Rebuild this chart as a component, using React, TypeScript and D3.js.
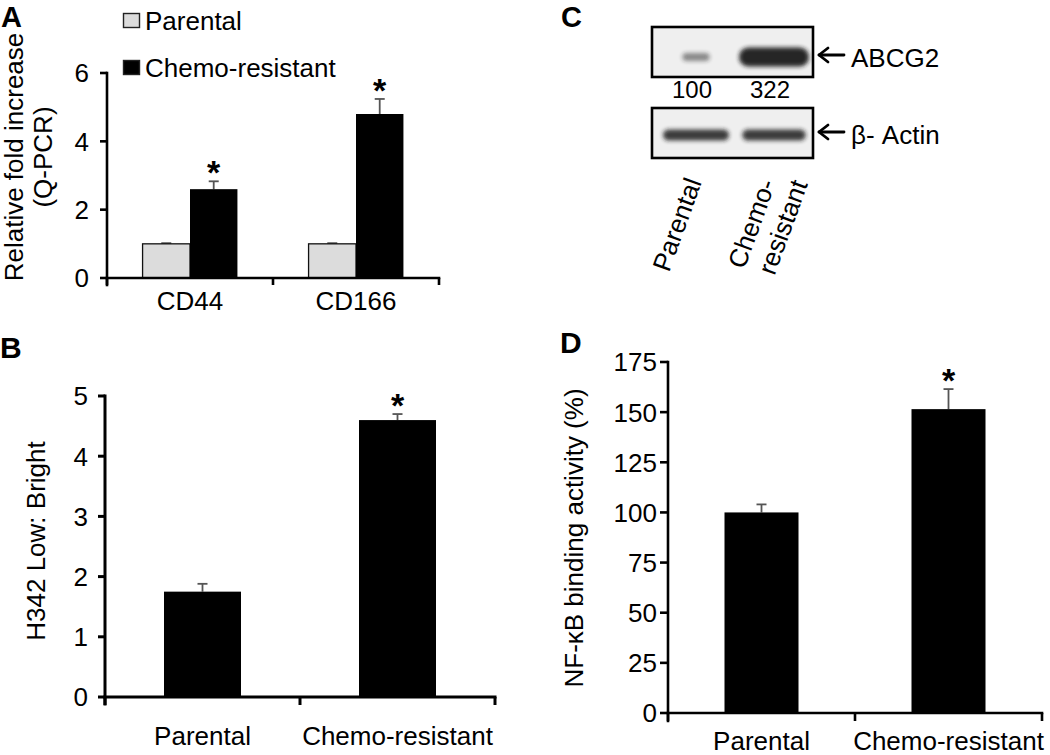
import React from "react";
import * as d3 from "d3";

const FONT = "'Liberation Sans', Arial, Helvetica, sans-serif";

// ---------- Panel A : Q-PCR ----------
const genesA = ["CD44", "CD166"];
const seriesA = ["Parental", "Chemo-resistant"];
const parentalA = [1.0, 1.0];
const parentalErrA = [0.02, 0.02];
const chemoA = [2.6, 4.8];
const chemoErrA = [0.23, 0.44];
const sigA = [true, true];
const ticksA = [0, 2, 4, 6];

// ---------- Panel B : H342 ----------
const groupsB = ["Parental", "Chemo-resistant"];
const valuesB = [1.75, 4.6];
const errB = [0.13, 0.1];
const sigB = [false, true];
const ticksB = [0, 1, 2, 3, 4, 5];

// ---------- Panel C : western blot ----------
const lanesC = ["Parental", "Chemo-resistant"];
const abcg2Density = [100, 322];
const actinDensity = [100, 96];

// ---------- Panel D : NF-kB ----------
const groupsD = ["Parental", "Chemo-resistant"];
const valuesD = [100, 151.5];
const errD = [4, 10];
const sigD = [false, true];
const ticksD = [0, 25, 50, 75, 100, 125, 150, 175];

const FS = 26;

function YAxis({ scale, ticks, x, tickLen, gap, width }: any) {
  const [y0, y1] = scale.range();
  return (
    <g>
      <line x1={x} x2={x} y1={y1} y2={y0 + tickLen} stroke="#000" strokeWidth={width} strokeLinecap="square" />
      {ticks.map((t: number) => (
        <g key={t}>
          <line x1={x - tickLen} x2={x} y1={scale(t)} y2={scale(t)} stroke="#000" strokeWidth={width} />
          <text x={x - gap} y={scale(t)} dy="0.36em" textAnchor="end" fontSize={FS}>
            {t}
          </text>
        </g>
      ))}
    </g>
  );
}

function XAxis({ band, y, tickLen, width }: any) {
  const [x0, x1] = band.range();
  const bounds = [...band.domain().map((d: string) => band(d)), x1];
  return (
    <g>
      <line x1={x0} x2={x1} y1={y} y2={y} stroke="#000" strokeWidth={width} strokeLinecap="square" />
      {bounds.map((b: number, i: number) => (
        <line key={i} x1={b} x2={b} y1={y} y2={y + tickLen} stroke="#000" strokeWidth={width} />
      ))}
    </g>
  );
}

function ErrBar({ cx, y0, y1 }: any) {
  return (
    <g stroke="#555" strokeWidth={1.8}>
      <line x1={cx} x2={cx} y1={y0} y2={y1} />
      <line x1={cx - 5} x2={cx + 5} y1={y1} y2={y1} />
    </g>
  );
}

function Star({ cx, y }: any) {
  return (
    <text x={cx} y={y + 3} textAnchor="middle" fontSize={34} fontWeight="bold">
      *
    </text>
  );
}

function SingleBars({ groups, values, errs, sig, x, y, barW, labelY }: any) {
  return (
    <g>
      {groups.map((g: string, i: number) => {
        const cx = x(g) + x.bandwidth() / 2;
        const top = y(values[i]);
        const et = y(values[i] + errs[i]);
        return (
          <g key={g}>
            <ErrBar cx={cx} y0={top} y1={et} />
            <rect x={cx - barW / 2} y={top} width={barW} height={y(0) - top} fill="#000" />
            {sig[i] && <Star cx={cx} y={et} />}
            <text x={cx} y={labelY} textAnchor="middle" fontSize={FS}>
              {g}
            </text>
          </g>
        );
      })}
    </g>
  );
}

export default function App() {
  // Panel A scales
  const xA = d3.scaleBand<string>().domain(genesA).range([107, 439]).padding(0);
  const inA = d3
    .scaleBand<string>()
    .domain(seriesA)
    .range([0, xA.bandwidth()])
    .paddingInner(0)
    .paddingOuter(0.75);
  const yA = d3.scaleLinear().domain([0, 6]).range([278, 73]);

  // Panel B scales
  const xB = d3.scaleBand<string>().domain(groupsB).range([105, 495]).padding(0);
  const yB = d3.scaleLinear().domain([0, 5]).range([697, 396]);

  // Panel D scales
  const xD = d3.scaleBand<string>().domain(groupsD).range([668, 1042]).padding(0);
  const yD = d3.scaleLinear().domain([0, 175]).range([713, 362]);

  // Panel C scales
  const laneC = d3.scaleBand<string>().domain(lanesC).range([657, 813]).padding(0);
  const bandW = d3.scaleLinear().domain([0, 322]).range([8, 70]);
  const bandH = d3.scaleLinear().domain([0, 322]).range([3, 19]);
  const bandO = d3.scaleLinear().domain([0, 322]).range([0.28, 0.95]);
  const actinW = d3.scaleLinear().domain([0, 100]).range([0, 66]);

  const laneCx = (l: string) => (laneC(l) as number) + laneC.bandwidth() / 2;

  const seriesFill = ["#dcdcdc", "#000"];
  const seriesVals = [parentalA, chemoA];
  const seriesErrs = [parentalErrA, chemoErrA];

  const rot = -70;

  return (
    <div style={{ position: "absolute", left: 0, top: 0 }}>
      <svg width={1050} height={755} viewBox="0 0 1050 755" style={{ display: "block", background: "#fff" }} fontFamily={FONT} fill="#000">
        <defs>
          <filter id="blur" x="-30%" y="-80%" width="160%" height="260%">
            <feGaussianBlur stdDeviation="2.2" />
          </filter>
        </defs>

        {/* ---------------- Panel A ---------------- */}
        <text x={1} y={27} fontSize={29} fontWeight="bold">A</text>
        {/* legend */}
        {seriesA.map((s, i) => (
          <g key={s}>
            <rect x={123.5} y={13.5 + i * 47} width={16} height={14} fill={seriesFill[i]} stroke="#222" strokeWidth={1.4} />
            <text x={145} y={30 + i * 47} fontSize={FS}>{s}</text>
          </g>
        ))}
        <g transform="translate(23,157) rotate(-90)">
          <text textAnchor="middle" fontSize={FS}>Relative fold increase</text>
        </g>
        <g transform="translate(52,157) rotate(-90)">
          <text textAnchor="middle" fontSize={FS}>(Q-PCR)</text>
        </g>
        {genesA.map((g, gi) => (
          <g key={g}>
            {seriesA.map((s, si) => {
              const x0 = (xA(g) as number) + (inA(s) as number);
              const w = inA.bandwidth();
              const v = seriesVals[si][gi];
              const top = yA(v);
              const et = yA(v + seriesErrs[si][gi]);
              return (
                <g key={s}>
                  <ErrBar cx={x0 + w / 2} y0={top} y1={et} />
                  <rect
                    x={x0}
                    y={top}
                    width={w}
                    height={yA(0) - top}
                    fill={seriesFill[si]}
                    stroke={si === 0 ? "#111" : "none"}
                    strokeWidth={1.3}
                  />
                  {si === 1 && sigA[gi] && <Star cx={x0 + w / 2} y={et} />}
                </g>
              );
            })}
            <text x={(xA(g) as number) + xA.bandwidth() / 2} y={310} textAnchor="middle" fontSize={FS}>
              {g}
            </text>
          </g>
        ))}
        <YAxis scale={yA} ticks={ticksA} x={107} tickLen={7} gap={18} width={2.6} />
        <XAxis band={xA} y={278} tickLen={7} width={2.6} />

        {/* ---------------- Panel B ---------------- */}
        <text x={0} y={358} fontSize={30} fontWeight="bold">B</text>
        <g transform="translate(45,541) rotate(-90)">
          <text textAnchor="middle" fontSize={FS}>H342 Low: Bright</text>
        </g>
        <SingleBars groups={groupsB} values={valuesB} errs={errB} sig={sigB} x={xB} y={yB} barW={77} labelY={745} />
        <YAxis scale={yB} ticks={ticksB} x={105} tickLen={7} gap={17} width={3} />
        <XAxis band={xB} y={697} tickLen={8} width={3} />

        {/* ---------------- Panel C ---------------- */}
        <text x={561} y={27} fontSize={29} fontWeight="bold">C</text>
        {/* ABCG2 blot */}
        <rect x={652} y={27} width={161} height={50} fill="#efefef" stroke="#000" strokeWidth={2.6} />
        {lanesC.map((l, i) => {
          const w = bandW(abcg2Density[i]);
          const h = bandH(abcg2Density[i]);
          return (
            <rect
              key={l}
              x={laneCx(l) - w / 2}
              y={57 - h / 2}
              width={w}
              height={h}
              rx={h / 2}
              fill="#1a1a1a"
              opacity={bandO(abcg2Density[i])}
              filter="url(#blur)"
            />
          );
        })}
        {lanesC.map((l, i) => (
          <text key={l} x={laneCx(l) - 4} y={98} textAnchor="middle" fontSize={24}>
            {abcg2Density[i]}
          </text>
        ))}
        {/* actin blot */}
        <rect x={652} y={108} width={161} height={50} fill="#efefef" stroke="#000" strokeWidth={2.6} />
        {lanesC.map((l, i) => {
          const w = actinW(actinDensity[i]);
          return (
            <rect
              key={l}
              x={laneCx(l) - w / 2}
              y={135 - 5.5}
              width={w}
              height={11}
              rx={5.5}
              fill="#1e1e1e"
              opacity={0.85}
              filter="url(#blur)"
            />
          );
        })}
        {/* arrows + names */}
        {[
          { y: 55, t: "ABCG2", by: 67 },
          { y: 132, t: "β- Actin", by: 144 },
        ].map((a) => (
          <g key={a.t}>
            <g stroke="#000" strokeWidth={2.8} fill="none" strokeLinecap="round" strokeLinejoin="round">
              <line x1={819} x2={844} y1={a.y} y2={a.y} />
              <polyline points={`${828},${a.y - 7} ${819},${a.y} ${828},${a.y + 7}`} />
            </g>
            <text x={851} y={a.by} fontSize={FS}>{a.t}</text>
          </g>
        ))}
        {/* rotated lane labels */}
        <g transform={`translate(${laneCx(lanesC[0]) + 6},182) rotate(${rot})`}>
          <text textAnchor="end" fontSize={FS}>Parental</text>
        </g>
        <g transform={`translate(${laneCx(lanesC[1]) + 2},183) rotate(${rot})`}>
          <text textAnchor="end" fontSize={FS}>Chemo-</text>
        </g>
        <g transform={`translate(${laneCx(lanesC[1]) + 34},184) rotate(${rot})`}>
          <text textAnchor="end" fontSize={FS}>resistant</text>
        </g>

        {/* ---------------- Panel D ---------------- */}
        <text x={560} y={353} fontSize={30} fontWeight="bold">D</text>
        <g transform="translate(583,538) rotate(-90)">
          <text textAnchor="middle" fontSize={FS}>NF-κB binding activity (%)</text>
        </g>
        <SingleBars groups={groupsD} values={valuesD} errs={errD} sig={sigD} x={xD} y={yD} barW={74} labelY={750} />
        <YAxis scale={yD} ticks={ticksD} x={668} tickLen={8} gap={11} width={2.6} />
        <XAxis band={xD} y={713} tickLen={8} width={2.6} />
      </svg>
    </div>
  );
}
